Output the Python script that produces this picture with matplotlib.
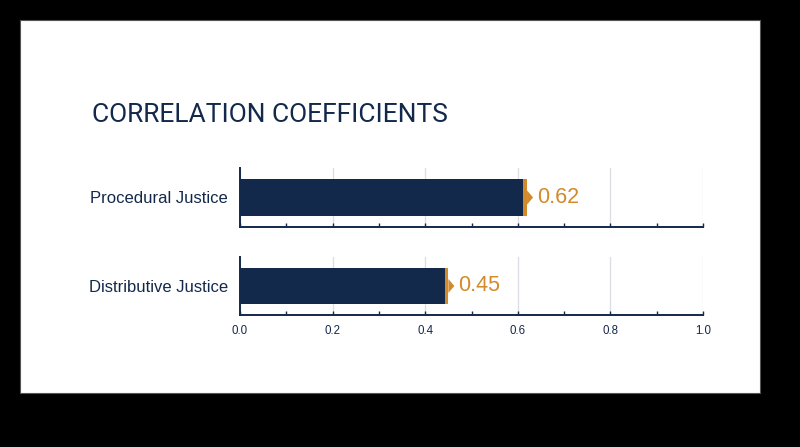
import matplotlib
matplotlib.use("Agg")
import matplotlib.pyplot as plt
from matplotlib.patches import Rectangle, Polygon
from matplotlib.ticker import MultipleLocator

# --- data ---
categories = ["Procedural Justice", "Distributive Justice"]
values = [0.62, 0.45]
tick_values = [0.0, 0.2, 0.4, 0.6, 0.8, 1.0]
tick_labels = ["0.0", "0.2", "0.4", "0.6", "0.8", "1.0"]

navy = "#13294b"
orange = "#d38a2b"
grid_grey = "#dcdde3"

plt.rcParams['font.family'] = ['Liberation Sans', 'DejaVu Sans']

fig = plt.figure(figsize=(8, 4.47), dpi=100, facecolor="black")

# white card behind everything
card = Rectangle((0.025, 0.1208), 0.925, 0.8345, transform=fig.transFigure,
                 facecolor="white", edgecolor="#555555", linewidth=0.8, zorder=-10)
fig.patches.append(card)

fig.text(0.115, 0.743, "CORRELATION COEFFICIENTS", fontsize=19, color=navy,
         ha="left", va="center", family=["Roboto", "DejaVu Sans"])

# axes boxes: [left, bottom, width, height]
boxes = [[0.3, 0.4922, 0.57875, 0.132],
         [0.3, 0.2953, 0.57875, 0.1298]]

for i, (cat, val) in enumerate(zip(categories, values)):
    ax = fig.add_axes(boxes[i])
    ax.set_facecolor("none")
    ax.set_xlim(0, 1.0)
    ax.set_ylim(-0.5, 0.5)

    ax.barh([0], [val], height=0.63, color=navy, zorder=2)

    # orange end marker: thin strip + small arrow
    strip_w = 0.008
    ax.add_patch(Rectangle((val - strip_w, -0.315), strip_w, 0.63,
                           facecolor=orange, edgecolor="none", zorder=3))
    ax.add_patch(Polygon([(val, 0.12), (val + 0.013, 0.0), (val, -0.12)],
                         closed=True, facecolor=orange, edgecolor="none", zorder=3))
    ax.text(val + 0.021, 0, f"{val:.2f}", color=orange, fontsize=15.5,
            ha="left", va="center")

    for s in ["top", "right"]:
        ax.spines[s].set_visible(False)
    for s in ["left", "bottom"]:
        ax.spines[s].set_color(navy)
        ax.spines[s].set_linewidth(1.4)

    ax.set_xticks(tick_values)
    ax.xaxis.set_minor_locator(MultipleLocator(0.1))
    ax.grid(axis="x", which="major", color=grid_grey, linewidth=0.9, zorder=0)
    ax.tick_params(axis="x", which="both", direction="in", length=3,
                   color=navy, width=1.0, labelsize=8.3, labelcolor=navy, pad=7)
    if i == len(categories) - 1:
        ax.set_xticklabels(tick_labels)
    else:
        ax.set_xticklabels([])

    ax.set_yticks([0])
    ax.set_yticklabels([cat])
    ax.tick_params(axis="y", length=0, pad=8.5, labelsize=12, labelcolor=navy)

fig.savefig("out.png", dpi=100, facecolor="black")
